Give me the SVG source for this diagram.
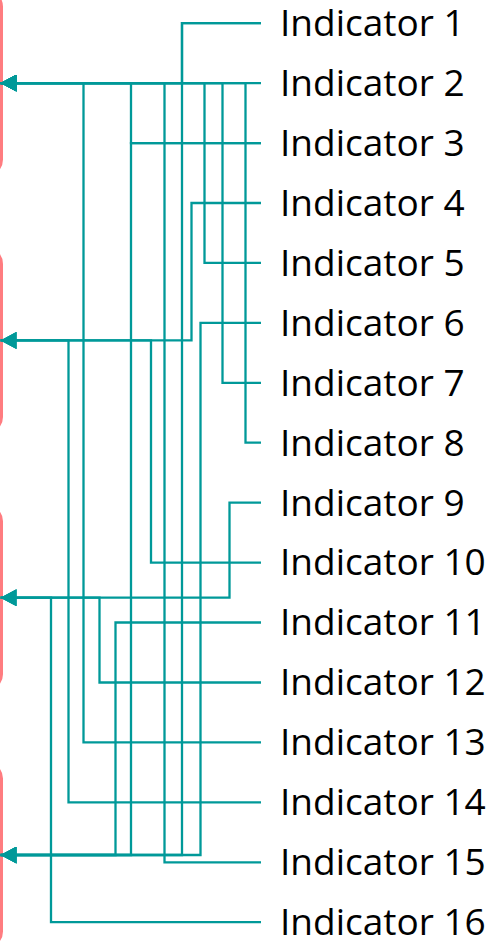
<svg xmlns="http://www.w3.org/2000/svg" width="499" height="943" viewBox="0 0 499 943">
  <style>
    .box { fill: #ffffff; stroke: #FF7C80; stroke-width: 3; }
    .lbl { font-family: "Open Sans", "Liberation Sans", sans-serif; font-size: 37px; fill: #000000; }
    .conn { fill: none; stroke: #009999; stroke-width: 2.3; marker-end: url(#arrow); }
  </style>
  <defs>
    <marker id="arrow" viewBox="0 0 16 17" refX="16" refY="8.5" markerWidth="16" markerHeight="17" markerUnits="userSpaceOnUse" orient="auto">
      <path d="M0,0 L16,8.5 L0,17 z" fill="#009999"/>
    </marker>
  </defs>
  <rect width="499" height="943" fill="#ffffff"/>

  <g id="target-1"><rect class="box" x="-300" y="-8.4" width="301.5" height="183" rx="15"/></g>
  <g id="target-2"><rect class="box" x="-300" y="248.9" width="301.5" height="183" rx="15"/></g>
  <g id="target-3"><rect class="box" x="-300" y="506.2" width="301.5" height="183" rx="15"/></g>
  <g id="target-4"><rect class="box" x="-300" y="763.5" width="301.5" height="183" rx="15"/></g>

  <g id="connectors">
    <path class="conn" d="M261,23.2 H182 V83.1 H0.5"/>
    <path class="conn" d="M261,23.2 H182 V855 H0.5"/>
    <path class="conn" d="M261,83.1 H0.5"/>
    <path class="conn" d="M261,143.1 H131 V83.1 H0.5"/>
    <path class="conn" d="M261,143.1 H131 V855 H0.5"/>
    <path class="conn" d="M261,203 H191.5 V340.4 H0.5"/>
    <path class="conn" d="M261,262.9 H204.5 V83.1 H0.5"/>
    <path class="conn" d="M261,322.9 H200.5 V855 H0.5"/>
    <path class="conn" d="M261,382.8 H222.5 V83.1 H0.5"/>
    <path class="conn" d="M261,442.7 H245.5 V83.1 H0.5"/>
    <path class="conn" d="M261,502.7 H229.5 V597.7 H0.5"/>
    <path class="conn" d="M261,562.6 H151 V340.4 H0.5"/>
    <path class="conn" d="M261,622.5 H115.5 V855 H0.5"/>
    <path class="conn" d="M261,682.5 H99.5 V597.7 H0.5"/>
    <path class="conn" d="M261,742.4 H83.5 V83.1 H0.5"/>
    <path class="conn" d="M261,802.3 H68.5 V340.4 H0.5"/>
    <path class="conn" d="M261,862.3 H164.5 V83.1 H0.5"/>
    <path class="conn" d="M261,922.2 H51 V597.7 H0.5"/>
  </g>

  <g id="indicator-1"><text class="lbl" x="280" y="36">Indicator 1</text></g>
  <g id="indicator-2"><text class="lbl" x="280" y="95.9">Indicator 2</text></g>
  <g id="indicator-3"><text class="lbl" x="280" y="155.9">Indicator 3</text></g>
  <g id="indicator-4"><text class="lbl" x="280" y="215.8">Indicator 4</text></g>
  <g id="indicator-5"><text class="lbl" x="280" y="275.7">Indicator 5</text></g>
  <g id="indicator-6"><text class="lbl" x="280" y="335.7">Indicator 6</text></g>
  <g id="indicator-7"><text class="lbl" x="280" y="395.6">Indicator 7</text></g>
  <g id="indicator-8"><text class="lbl" x="280" y="455.5">Indicator 8</text></g>
  <g id="indicator-9"><text class="lbl" x="280" y="515.5">Indicator 9</text></g>
  <g id="indicator-10"><text class="lbl" x="280" y="575.4">Indicator 10</text></g>
  <g id="indicator-11"><text class="lbl" x="280" y="635.3">Indicator 11</text></g>
  <g id="indicator-12"><text class="lbl" x="280" y="695.3">Indicator 12</text></g>
  <g id="indicator-13"><text class="lbl" x="280" y="755.2">Indicator 13</text></g>
  <g id="indicator-14"><text class="lbl" x="280" y="815.1">Indicator 14</text></g>
  <g id="indicator-15"><text class="lbl" x="280" y="875.1">Indicator 15</text></g>
  <g id="indicator-16"><text class="lbl" x="280" y="935">Indicator 16</text></g>
</svg>
